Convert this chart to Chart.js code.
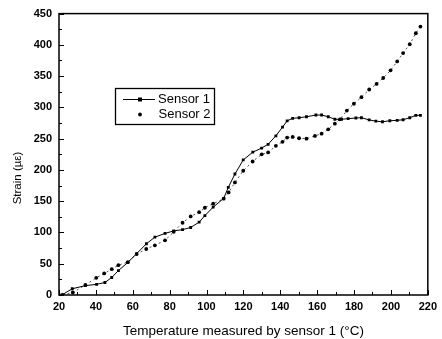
<!DOCTYPE html>
<html>
<head>
<meta charset="utf-8">
<script src="https://cdn.jsdelivr.net/npm/chart.js@4/dist/chart.umd.min.js"></script>
<style>
  html, body { margin: 0; padding: 0; background: #fff; }
  #wrap { position: relative; width: 442px; height: 339px; }
</style>
</head>
<body>
<div id="wrap"><canvas id="c" width="442" height="339"></canvas></div>
<script>
// ---- data ----
const sensor1Temp = [21.5, 27.2, 34.3, 40.4, 44.9, 48.6, 52.2, 57.3, 62.1, 67.4, 72, 77.5, 82.2, 87, 91.4, 96, 99.1, 103.6, 109.3, 111.8, 115.4, 119.9, 125.1, 129.9, 133.4, 137.6, 141.2, 143.7, 146.7, 150.2, 154.2, 159.3, 162.4, 166, 169.6, 173.2, 176.8, 181, 184, 188.2, 191.8, 195.4, 199.4, 203.4, 206.6, 210.2, 213.5, 216];
const sensor1Strain = [0, 10, 15, 17, 20, 28, 39, 52, 66, 82, 92.5, 98.5, 102.5, 104.5, 108, 116.5, 127, 140.5, 154.5, 172, 193.5, 216, 228.5, 235, 241, 254.5, 268.5, 278.5, 282.5, 283.5, 285, 287.8, 287.8, 285, 281, 281, 282, 283, 283.5, 280, 278, 277, 278.7, 279.3, 280.3, 283.5, 287.3, 287.3];
const sensor2Temp = [22, 27.5, 34.3, 40.2, 44.5, 48.6, 52.2, 57.3, 62.1, 67.3, 72, 77.5, 82.2, 87, 91.4, 96, 99.1, 103.6, 109.3, 112, 115.4, 119.9, 125, 129.9, 133.4, 137.6, 141.2, 143.7, 146.7, 150.2, 154.2, 158.8, 162.4, 166, 169.6, 172.3, 176.1, 179.9, 184, 188.2, 192.2, 195.8, 199.8, 203.4, 206.6, 210.2, 213.5, 216];
const sensor2Strain = [0, 4, 16, 27.5, 34.5, 41.3, 47.7, 52.5, 65.5, 73.6, 79.5, 87.4, 101, 115.5, 125.6, 132.4, 139.5, 146, 154, 164, 180, 198.7, 213.5, 225, 228, 238.5, 245, 251.7, 252.8, 250.7, 250, 254.4, 258, 265, 274, 281, 295, 305.8, 316.4, 328.6, 337.5, 347, 359.3, 373.6, 386.8, 401, 418.6, 429.3];
const seriesNames = ["Sensor 1", "Sensor 2"];
const xTitle = "Temperature measured by sensor 1 (\u00B0C)";
const yTitle = "Strain (\u00B5\u03B5)";
const xRange = [20, 220];
const yRange = [0, 450];

const FONT = "'Liberation Sans', Arial, Helvetica, sans-serif";

function pts(xs, ys) { return xs.map((x, i) => ({ x: x, y: ys[i] })); }

const framePlugin = {
  id: 'frameTicks',
  afterDatasetsDraw(chart) {
    const ctx = chart.ctx;
    const a = chart.chartArea;
    const xs = chart.scales.x, ys = chart.scales.y;
    ctx.save();
    ctx.strokeStyle = '#000';
    ctx.lineWidth = 1.5;
    ctx.strokeRect(a.left, a.top, a.right - a.left, a.bottom - a.top);
    ctx.lineWidth = 1;
    ctx.beginPath();
    for (let v = xRange[0]; v <= xRange[1]; v += 10) {
      const px = Math.round(xs.getPixelForValue(v)) + 0.5;
      const len = (v % 20 === 0) ? 5 : 3;
      ctx.moveTo(px, a.bottom);
      ctx.lineTo(px, a.bottom - len);
    }
    for (let v = yRange[0]; v <= yRange[1]; v += 25) {
      const py = Math.round(ys.getPixelForValue(v)) + 0.5;
      const len = (v % 50 === 0) ? 5 : 3;
      ctx.moveTo(a.left, py);
      ctx.lineTo(a.left + len, py);
    }
    ctx.stroke();

    ctx.fillStyle = '#000';
    ctx.font = '11.5px ' + FONT;
    ctx.textAlign = 'center';
    ctx.textBaseline = 'middle';
    ctx.translate(18, 178);
    ctx.rotate(-Math.PI / 2);
    ctx.fillText(yTitle, 0, 0);
    ctx.restore();

    ctx.save();
    ctx.fillStyle = '#fff';
    ctx.fillRect(115, 88, 99, 36);
    ctx.strokeStyle = '#000';
    ctx.lineWidth = 1.3;
    ctx.strokeRect(115.5, 88.5, 99, 36);
    const ds = chart.data.datasets;
    ctx.lineWidth = 1;
    ctx.beginPath();
    ctx.moveTo(123, 99.5); ctx.lineTo(155, 99.5);
    ctx.stroke();
    ctx.fillStyle = '#000';
    ctx.fillRect(138, 97.5, 4, 4);
    ctx.beginPath();
    ctx.arc(140, 114.5, 1.9, 0, Math.PI * 2);
    ctx.fill();
    ctx.font = '13px ' + FONT;
    ctx.textAlign = 'left';
    ctx.textBaseline = 'middle';
    ctx.fillText(ds[0].label, 158, 99.5);
    ctx.fillText(ds[1].label, 158.5, 114.5);
    ctx.restore();
  }
};

new Chart(document.getElementById('c'), {
  type: 'scatter',
  data: {
    datasets: [
      {
        label: seriesNames[0],
        data: pts(sensor1Temp, sensor1Strain),
        showLine: true,
        borderColor: '#000',
        backgroundColor: '#000',
        borderWidth: 1,
        pointStyle: 'rect',
        pointRadius: 2,
        pointBorderWidth: 0,
        tension: 0
      },
      {
        label: seriesNames[1],
        data: pts(sensor2Temp, sensor2Strain),
        showLine: true,
        borderColor: '#555',
        backgroundColor: '#000',
        borderWidth: 1,
        borderDash: [2, 3],
        pointStyle: 'circle',
        pointRadius: 1.9,
        pointBorderWidth: 0,
        tension: 0
      }
    ]
  },
  options: {
    responsive: false,
    animation: false,
    devicePixelRatio: 1,
    layout: { padding: { left: 0, right: 14, top: 12, bottom: 0 } },
    plugins: {
      legend: { display: false },
      tooltip: { enabled: false }
    },
    scales: {
      x: {
        type: 'linear',
        min: xRange[0], max: xRange[1],
        grid: { display: false, drawTicks: false },
        border: { display: false },
        ticks: {
          stepSize: 20,
          padding: 5,
          color: '#000',
          font: { family: FONT, size: 11, weight: 'bold' },
          maxRotation: 0
        },
        title: {
          display: true,
          text: xTitle,
          color: '#000',
          font: { family: FONT, size: 13.5 },
          padding: { top: 0, bottom: 0 }
        },
        afterFit(scale) { scale.height = 44; }
      },
      y: {
        type: 'linear',
        min: yRange[0], max: yRange[1],
        grid: { display: false, drawTicks: false },
        border: { display: false },
        ticks: {
          stepSize: 50,
          padding: 7,
          color: '#000',
          font: { family: FONT, size: 11, weight: 'bold' }
        },
        afterFit(scale) { scale.width = 59; }
      }
    }
  },
  plugins: [framePlugin]
});
</script>
</body>
</html>
